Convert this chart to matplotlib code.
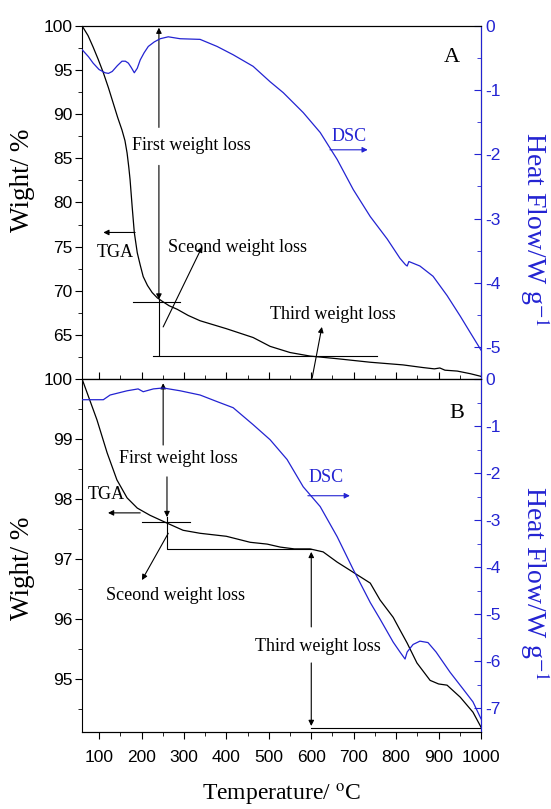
import matplotlib
matplotlib.use("Agg")
import matplotlib.pyplot as plt
from matplotlib.ticker import MultipleLocator

# ---- data ----
# panel A, TGA (weight %)
ta_T = [60, 74, 86, 98, 110, 122, 133, 144, 154, 161, 166, 170, 173, 178, 183,
        190, 197, 204, 214, 225, 237, 249, 265, 284, 310, 338, 400, 463, 503, 550,
        597, 661, 739, 816, 863, 890, 903, 915, 944, 975, 1000]
ta_W = [100, 98.9, 97.6, 96.2, 94.7, 93.0, 91.3, 89.6, 88.2, 87.0, 85.6, 84.0, 82.6,
        79.5, 76.6, 74.3, 72.9, 71.6, 70.6, 69.8, 69.2, 68.8, 68.3, 67.9, 67.2, 66.6,
        65.7, 64.7, 63.7, 63.0, 62.6, 62.3, 61.9, 61.6, 61.3, 61.15, 61.25, 61.0,
        60.9, 60.6, 60.3]
# panel A, DSC (heat flow W/g)
da_T = [60, 75, 86, 100, 114, 122, 131, 143, 154, 162, 169, 176, 183, 190, 197,
        206, 216, 230, 244, 263, 291, 338, 378, 416, 463, 503, 534, 581, 621, 661,
        699, 739, 779, 809, 822, 826, 830, 856, 887, 920, 951, 974, 1000]
da_H = [-0.37, -0.48, -0.58, -0.68, -0.73, -0.74, -0.71, -0.62, -0.55, -0.55, -0.58,
        -0.65, -0.73, -0.66, -0.53, -0.42, -0.32, -0.25, -0.2, -0.17, -0.2, -0.21,
        -0.32, -0.45, -0.63, -0.87, -1.04, -1.35, -1.66, -2.08, -2.55, -2.97, -3.32,
        -3.62, -3.72, -3.74, -3.67, -3.74, -3.9, -4.2, -4.52, -4.77, -5.05]
# panel B, TGA
tb_T = [60, 78, 95, 119, 142, 166, 190, 220, 260, 298, 338, 400, 456, 496, 527,
        560, 597, 628, 661, 699, 739, 762, 793, 809, 826, 849, 880, 900, 920, 951,
        981, 1000]
tb_W = [100, 99.65, 99.32, 98.77, 98.32, 98.02, 97.85, 97.73, 97.6, 97.48, 97.43,
        97.38, 97.28, 97.25, 97.2, 97.17, 97.17, 97.12, 96.95, 96.78, 96.6, 96.32,
        96.03, 95.82, 95.6, 95.27, 94.98, 94.92, 94.9, 94.7, 94.45, 94.2]
# panel B, DSC
db_T = [60, 95, 110, 126, 166, 192, 204, 228, 251, 291, 338, 378, 416, 463, 503,
        543, 581, 621, 661, 699, 739, 762, 793, 809, 821, 826, 840, 856, 875, 894,
        927, 958, 981, 1000]
db_H = [-0.44, -0.44, -0.44, -0.34, -0.25, -0.21, -0.27, -0.21, -0.19, -0.25, -0.34,
        -0.48, -0.61, -0.97, -1.29, -1.71, -2.29, -2.71, -3.35, -4.05, -4.75, -5.1,
        -5.59, -5.8, -5.95, -5.8, -5.64, -5.57, -5.6, -5.8, -6.23, -6.59, -6.86, -7.22]

BLUE = '#2323d2'
serif = 'Liberation Serif'
plt.rcParams['font.family'] = 'Liberation Sans'
plt.rcParams['mathtext.fontset'] = 'stix'

fig = plt.figure(figsize=(5.51, 8.09), dpi=100)
axA = fig.add_axes([0.149, 0.5315, 0.724, 0.4365])
axB = fig.add_axes([0.149, 0.0952, 0.724, 0.4363])
axA2 = axA.twinx()
axB2 = axB.twinx()

axA.plot(ta_T, ta_W, color='k', lw=0.9)
axA2.plot(da_T, da_H, color=BLUE, lw=0.9)
axB.plot(tb_T, tb_W, color='k', lw=0.9)
axB2.plot(db_T, db_H, color=BLUE, lw=0.9)

for ax, ly in ((axA, 0.564), (axB, 0.465)):
    ax.set_xlim(60, 1000)
    ax.xaxis.set_major_locator(MultipleLocator(100))
    ax.xaxis.set_minor_locator(MultipleLocator(50))
    ax.tick_params(axis='y', which='both', direction='out', labelsize=12.5, pad=2)
    ax.tick_params(axis='y', which='major', length=5)
    ax.tick_params(axis='y', which='minor', length=3)
    ax.set_ylabel('Wight/ %', family=serif, fontsize=19.5)
    ax.yaxis.set_label_coords(-0.118, ly)

axA.set_ylim(60, 100)
axA.set_yticks([65, 70, 75, 80, 85, 90, 95, 100])
axA.yaxis.set_minor_locator(MultipleLocator(2.5))
axA.tick_params(axis='x', which='both', direction='in', labelbottom=False)
axA.tick_params(axis='x', which='major', length=5)
axA.tick_params(axis='x', which='minor', length=3)

axB.set_ylim(94.12, 100)
axB.set_yticks([95, 96, 97, 98, 99, 100])
axB.yaxis.set_minor_locator(MultipleLocator(0.5))
axB.tick_params(axis='x', which='both', direction='out', labelsize=12.5, pad=8)
axB.tick_params(axis='x', which='major', length=5)
axB.tick_params(axis='x', which='minor', length=3)
axB.set_xlabel(r'Temperature/ $^{\mathrm{o}}$C', family=serif, fontsize=17, labelpad=12)

for ax2, lo, top, ly in ((axA2, -5.5, [0, -1, -2, -3, -4, -5], 0.425),
                         (axB2, -7.5, [0, -1, -2, -3, -4, -5, -6, -7], 0.422)):
    ax2.set_ylim(lo, 0)
    ax2.set_yticks(top)
    ax2.set_yticklabels([str(v) for v in top])
    ax2.yaxis.set_minor_locator(MultipleLocator(0.5))
    ax2.tick_params(axis='y', which='both', direction='in', colors=BLUE,
                    labelsize=12.5, pad=3)
    ax2.tick_params(axis='y', which='major', length=5)
    ax2.tick_params(axis='y', which='minor', length=3)
    ax2.spines['right'].set_color(BLUE)
    ax2.spines['left'].set_visible(False)
    ax2.set_ylabel(r'Heat Flow/W g$^{\mathrm{-1}}$', family=serif, fontsize=20,
                   color=BLUE, rotation=270, va='bottom')
    ax2.yaxis.set_label_coords(1.093, ly)

# ---- annotations, panel A ----
arr = dict(arrowstyle='-|>', lw=0.8, color='k', mutation_scale=8,
           shrinkA=0, shrinkB=0)
tf = dict(family=serif, fontsize=13)
axA.text(932, 96.4, 'A', family=serif, fontsize=16, ha='center', va='center')
axA.annotate('', xy=(241, 99.8), xytext=(241, 88.5), arrowprops=arr)
axA.annotate('', xy=(241, 69.0), xytext=(241, 84.2), arrowprops=arr)
axA.plot([241, 241], [69.0, 62.7], color='k', lw=0.8)
axA.text(317, 86.4, 'First weight loss', ha='center', va='center', **tf)
axA.plot([180, 291], [68.7, 68.7], color='k', lw=0.8)
axA.plot([227, 755], [62.6, 62.6], color='k', lw=0.8)
axA.annotate('', xy=(343, 75.0), xytext=(251, 65.9), arrowprops=arr)
axA.text(263, 74.9, 'Sceond weight loss', ha='left', va='center', **tf)
axA.annotate('', xy=(110, 76.6), xytext=(185, 76.6), arrowprops=arr)
axA.text(95, 74.3, 'TGA', ha='left', va='center', **tf)
axA.annotate('', xy=(625, 65.9), xytext=(602, 60.1), arrowprops=arr)
axA.text(650, 67.3, 'Third weight loss', ha='center', va='center', **tf)
axA2.annotate('', xy=(733, -1.93), xytext=(644, -1.93),
              arrowprops=dict(arr, color=BLUE))
axA2.text(688, -1.72, 'DSC', ha='center', va='center', color=BLUE, **tf)

# ---- annotations, panel B ----
axB.text(944, 99.43, 'B', family=serif, fontsize=16, ha='center', va='center')
axB.annotate('', xy=(251, 99.93), xytext=(251, 98.9), arrowprops=arr)
axB.text(286, 98.68, 'First weight loss', ha='center', va='center', **tf)
axB.annotate('', xy=(260, 97.7), xytext=(260, 98.37), arrowprops=arr)
axB.plot([260, 260, 600], [97.7, 97.17, 97.17], color='k', lw=0.8)
axB.plot([201, 314], [97.62, 97.62], color='k', lw=0.8)
axB.annotate('', xy=(121, 97.77), xytext=(197, 97.77), arrowprops=arr)
axB.text(74, 98.07, 'TGA', ha='left', va='center', **tf)
axB.annotate('', xy=(201, 96.65), xytext=(263, 97.43), arrowprops=arr)
axB.text(279, 96.4, 'Sceond weight loss', ha='center', va='center', **tf)
axB.annotate('', xy=(600, 97.12), xytext=(600, 95.87), arrowprops=arr)
axB.annotate('', xy=(600, 94.22), xytext=(600, 95.27), arrowprops=arr)
axB.text(615, 95.55, 'Third weight loss', ha='center', va='center', **tf)
axB.plot([600, 1000], [94.18, 94.18], color='k', lw=0.8)
axB2.annotate('', xy=(691, -2.48), xytext=(592, -2.48),
              arrowprops=dict(arr, color=BLUE))
axB2.text(635, -2.1, 'DSC', ha='center', va='center', color=BLUE, **tf)

fig.savefig('out.png', dpi=100)
